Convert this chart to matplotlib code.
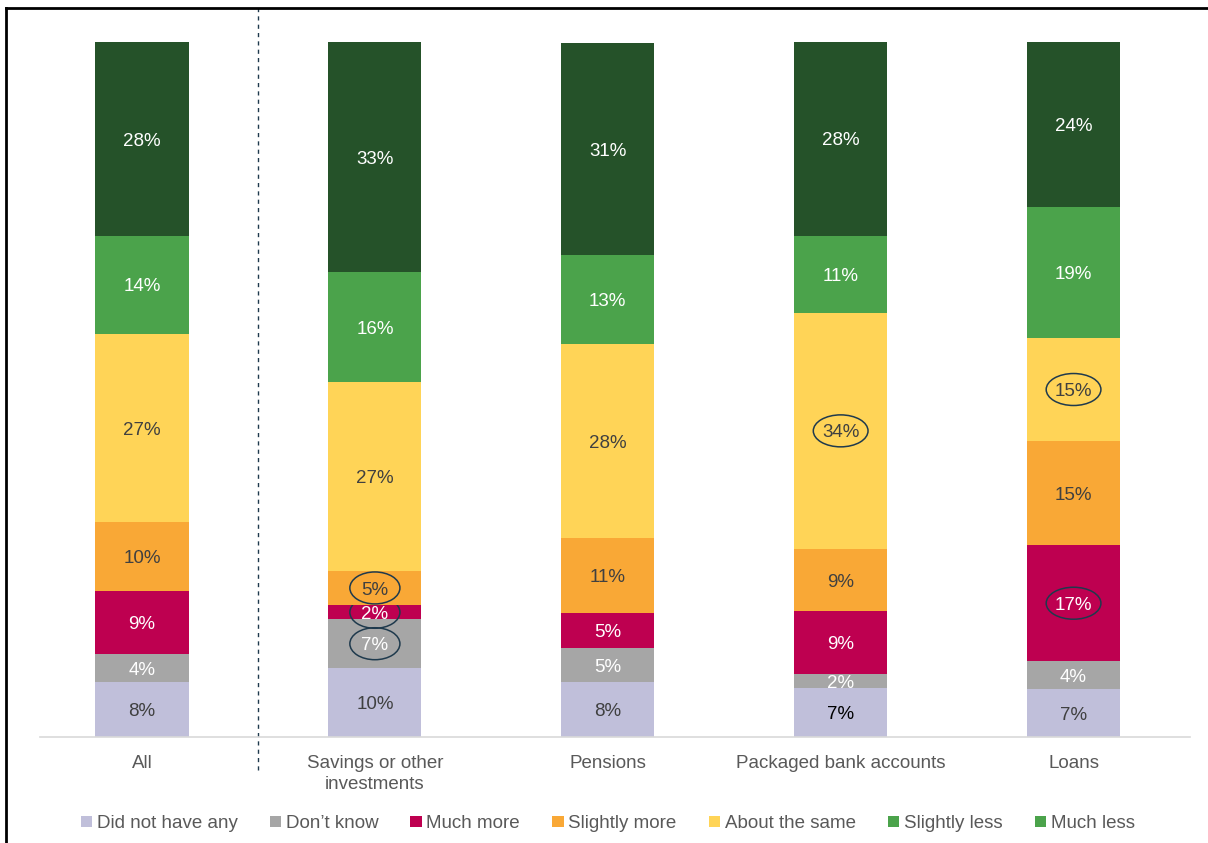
"""
Stacked share chart: how holdings changed, by product.
"""
import matplotlib

matplotlib.use('agg')
import matplotlib.pyplot as plt
from matplotlib.lines import Line2D
from matplotlib.patches import Ellipse, Patch
from matplotlib.transforms import blended_transform_factory

plt.rcParams['font.family'] = ['Liberation Sans', 'DejaVu Sans']

categories = ['All', 'Savings or other\ninvestments', 'Pensions',
              'Packaged bank accounts', 'Loans']
series = ['Did not have any', 'Don\u2019t know', 'Much more', 'Slightly more',
          'About the same', 'Slightly less', 'Much less']

# shares (%), bottom to top
did_not_have = [7.9, 9.9, 7.9, 7.05, 6.9]
dont_know = [4.0, 7.05, 4.9, 2.0, 4.0]
much_more = [9.1, 2.0, 5.0, 9.1, 16.7]
slightly_more = [9.9, 5.0, 10.9, 8.9, 15.0]
about_same = [27.1, 27.1, 27.8, 34.0, 14.8]
slightly_less = [14.1, 15.8, 12.8, 11.1, 18.8]
much_less = [27.9, 33.1, 30.6, 27.9, 23.9]

values = [did_not_have, dont_know, much_more, slightly_more,
          about_same, slightly_less, much_less]
colors = ['#c0bfda', '#a6a6a6', '#be0050', '#f9a836',
          '#ffd457', '#4ba34b', '#255229']
legend_colors = ['#c0bfda', '#a6a6a6', '#be0050', '#f9a836',
                 '#ffd457', '#4ba34b', '#4ba34b']
label_colors = ['#404040', 'white', 'white', '#404040',
                '#404040', 'white', 'white']
# (series index, category index) of labels circled in the original
circled = {(3, 1), (2, 1), (1, 1), (4, 3), (4, 4), (2, 4)}

fig = plt.figure(figsize=(12.08, 8.43), dpi=100)
ax = fig.add_axes([0.0331, 0.1257, 0.9520, 0.8245])

x = list(range(len(categories)))
bottom = [0.0] * len(categories)
for s, vals in enumerate(values):
    ax.bar(x, vals, bottom=bottom, width=0.4, color=colors[s], linewidth=0)
    for i, v in enumerate(vals):
        yc = bottom[i] + v / 2
        txt = '{:.0f}%'.format(v)
        col = label_colors[s]
        if s == 0 and i == 3:
            col = 'black'
        ax.annotate(txt, (i, yc), xytext=(0, -1.5), textcoords='offset points',
                    ha='center', va='center', fontsize=13.5, color=col)
        if (s, i) in circled:
            w = 0.215 if len(txt) == 2 else 0.235
            ax.add_patch(Ellipse((i, yc), w, 4.6, fill=False,
                                 edgecolor='#1f3a4d', linewidth=1.1))
    bottom = [b + v for b, v in zip(bottom, vals)]

ax.set_xlim(-0.438, 4.5)
ax.set_ylim(0, 100)
ax.set_xticks(x)
ax.set_xticklabels(categories, fontsize=13.5, color='#595959', linespacing=1.3)
ax.tick_params(axis='x', length=0, pad=13)
ax.set_yticks([])
for side in ('top', 'right', 'left'):
    ax.spines[side].set_visible(False)
ax.spines['bottom'].set_color('#d9d9d9')
ax.spines['bottom'].set_linewidth(1.2)

# dashed divider between "All" and the products
trans = blended_transform_factory(ax.transData, ax.transAxes)
ax.plot([0.5, 0.5], [-0.047, 1.049], transform=trans, clip_on=False,
        color='#1f3a4d', linewidth=1, linestyle=(0, (3, 3)))

handles = [Patch(facecolor=c, edgecolor='none') for c in legend_colors]
fig.legend(handles, series, loc='center', bbox_to_anchor=(0.503, 0.023),
           ncol=7, frameon=False, fontsize=13.5, labelcolor='#595959',
           handlelength=0.6, handleheight=0.6, handletextpad=0.25,
           columnspacing=1.72)

# outer frame (top and left edges visible in the original)
fig.add_artist(Line2D([0.005, 1.0], [0.9905, 0.9905], color='black',
                      linewidth=2, transform=fig.transFigure))
fig.add_artist(Line2D([0.005, 0.005], [0.0, 0.9905], color='black',
                      linewidth=2, transform=fig.transFigure))

plt.savefig('out.png', dpi=100)
